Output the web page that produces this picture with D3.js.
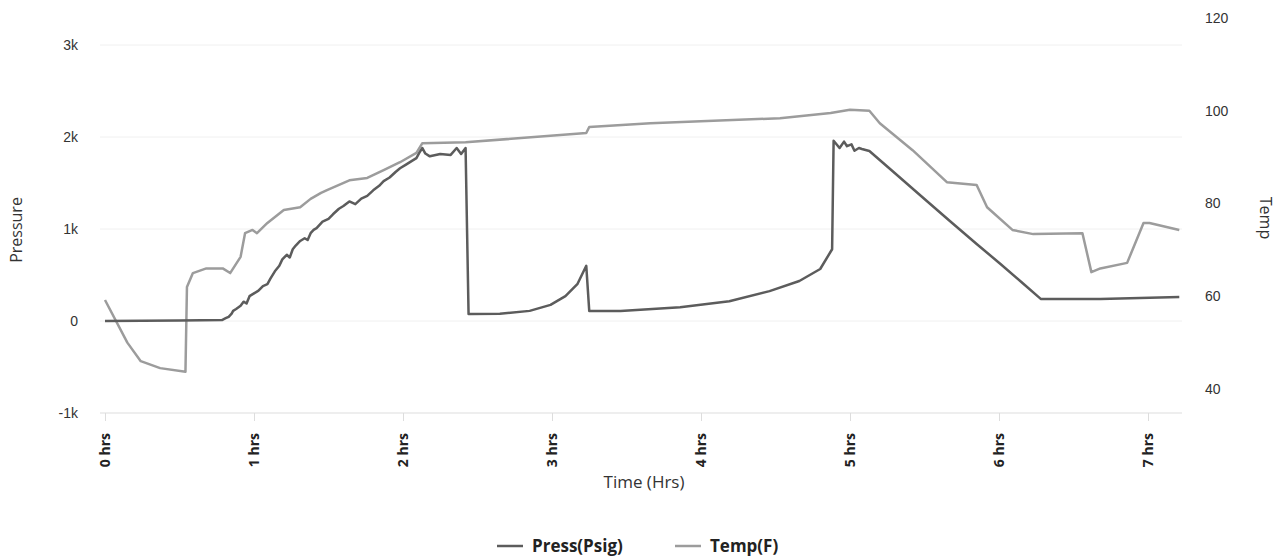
<!DOCTYPE html>
<html><head><meta charset="utf-8">
<script src="https://cdn.jsdelivr.net/npm/d3@7"></script>
<style>body{margin:0;background:#fff;}svg{display:block;font-family:"Open Sans","DejaVu Sans",sans-serif;}</style>
</head><body>
<svg id="c" width="1281" height="559"></svg>
<script>
// Time in hours
const pressTime = [0,0.5,0.785,0.81,0.83,0.85,0.86,0.88,0.91,0.93,0.95,0.97,1.0,1.03,1.06,1.09,1.11,1.14,1.17,1.19,1.22,1.24,1.26,1.28,1.31,1.34,1.36,1.38,1.40,1.42,1.46,1.50,1.53,1.57,1.60,1.64,1.68,1.72,1.76,1.80,1.84,1.87,1.91,1.95,1.98,2.02,2.06,2.09,2.11,2.13,2.15,2.18,2.25,2.32,2.36,2.39,2.42,2.44,2.45,2.65,2.85,2.99,3.09,3.17,3.23,3.25,3.46,3.86,4.19,4.46,4.66,4.80,4.88,4.89,4.93,4.96,4.98,5.01,5.03,5.06,5.08,5.13,5.30,5.50,5.67,5.85,6.01,6.15,6.28,6.68,7.21];
const pressVals = [0,5,10,30,45,80,110,130,165,210,190,270,300,330,380,400,460,540,600,670,720,690,780,820,870,900,880,955,990,1010,1080,1110,1160,1220,1250,1300,1270,1330,1360,1420,1470,1520,1560,1620,1660,1700,1740,1770,1830,1880,1820,1790,1815,1805,1880,1815,1880,75,75,80,110,175,270,400,600,110,110,150,215,325,435,565,780,1960,1880,1950,1900,1920,1850,1880,1870,1848,1609,1326,1087,837,620,424,240,240,260];

const tempTime = [0,0.15,0.24,0.37,0.54,0.55,0.59,0.68,0.79,0.84,0.91,0.94,0.99,1.02,1.09,1.20,1.31,1.38,1.45,1.49,1.64,1.76,1.87,1.98,2.09,2.13,2.42,3.23,3.25,3.66,4.53,4.87,5.00,5.13,5.20,5.42,5.65,5.85,5.92,6.09,6.23,6.56,6.62,6.68,6.86,6.97,7.01,7.21];
const tempVals = [59.2,50,46,44.5,43.7,62,65,66,66,65,68.5,73.6,74.3,73.6,75.8,78.6,79.2,81,82.3,82.9,85,85.5,87.2,88.9,90.9,93,93.2,95.2,96.5,97.3,98.4,99.5,100.2,100,97.3,91.5,84.6,84,79.2,74.3,73.4,73.6,65.2,66,67.2,75.8,75.8,74.3];

const hourTicks = [0,1,2,3,4,5,6,7];
const pressTicks = [-1000,0,1000,2000,3000];
const pressTickLabels = ["-1k","0","1k","2k","3k"];
const tempTicks = [40,60,80,100,120];

const svg = d3.select("#c");
const x = d3.scaleLinear().domain([0,7]).range([105,1148]);
const yP = d3.scaleLinear().domain([-1000,3000]).range([413,45]);
const yT = d3.scaleLinear().domain([40,120]).range([389,18]);

// gridlines
svg.append("g").selectAll("line").data(pressTicks.filter(d=>d>-1000)).join("line")
  .attr("x1",100).attr("x2",1182).attr("y1",d=>yP(d)).attr("y2",d=>yP(d))
  .attr("stroke","#f0f0f0").attr("stroke-width",1);

// x axis
const xAxis = d3.axisBottom(x).tickValues(hourTicks).tickSize(8).tickSizeOuter(0).tickFormat(d=>d+" hrs");
const gx = svg.append("g").attr("transform",`translate(0,${yP(-1000)})`).call(xAxis);
gx.select(".domain").attr("stroke","#dddddd").attr("d","M100,0H1182");
gx.selectAll(".tick line").attr("stroke","#dddddd");
gx.selectAll(".tick text").attr("transform","rotate(-90)").attr("text-anchor","end")
  .attr("x",-20).attr("y",0).attr("dy","0.35em")
  .attr("font-size",14).attr("font-weight","bold").attr("fill","#222")
  .style("font-family","'Open Sans',sans-serif");

// left axis
const gl = svg.append("g").attr("transform","translate(78,0)")
  .call(d3.axisLeft(yP).tickValues(pressTicks).tickSize(0).tickFormat((d,i)=>pressTickLabels[i]));
gl.select(".domain").remove();
gl.selectAll("text").attr("font-size",14).attr("fill","#333").attr("x",0);

// right axis
const gr = svg.append("g").attr("transform","translate(1205,0)")
  .call(d3.axisRight(yT).tickValues(tempTicks).tickSize(0));
gr.select(".domain").remove();
gr.selectAll("text").attr("font-size",14).attr("fill","#333").attr("x",0);

// titles
svg.append("text").attr("transform","translate(22,230) rotate(-90)").attr("text-anchor","middle")
  .attr("font-size",16).attr("fill","#333").text("Pressure");
svg.append("text").attr("transform","translate(1260,218) rotate(90)").attr("text-anchor","middle")
  .attr("font-size",16).attr("fill","#333").text("Temp");
svg.append("text").attr("x",644).attr("y",488).attr("text-anchor","middle")
  .attr("font-size",17).attr("fill","#333").text("Time (Hrs)");

// lines
const pressData = pressTime.map((t,i)=>[t,pressVals[i]]);
const tempData = tempTime.map((t,i)=>[t,tempVals[i]]);
svg.append("path").datum(tempData)
  .attr("d",d3.line().x(d=>x(d[0])).y(d=>yT(d[1])))
  .attr("fill","none").attr("stroke","#9c9c9c").attr("stroke-width",2.5).attr("stroke-linejoin","round");
svg.append("path").datum(pressData)
  .attr("d",d3.line().x(d=>x(d[0])).y(d=>yP(d[1])))
  .attr("fill","none").attr("stroke","#5c5c5c").attr("stroke-width",2.5).attr("stroke-linejoin","round");

// legend
const legend = [{name:"Press(Psig)",color:"#5c5c5c",x:497},{name:"Temp(F)",color:"#9c9c9c",x:675}];
const lg = svg.append("g");
legend.forEach(l=>{
  lg.append("line").attr("x1",l.x).attr("x2",l.x+26).attr("y1",546).attr("y2",546)
    .attr("stroke",l.color).attr("stroke-width",2.5);
  lg.append("text").attr("x",l.x+35).attr("y",552).attr("font-size",17).attr("font-weight","bold")
    .attr("fill","#222").text(l.name);
});
</script>
</body></html>
